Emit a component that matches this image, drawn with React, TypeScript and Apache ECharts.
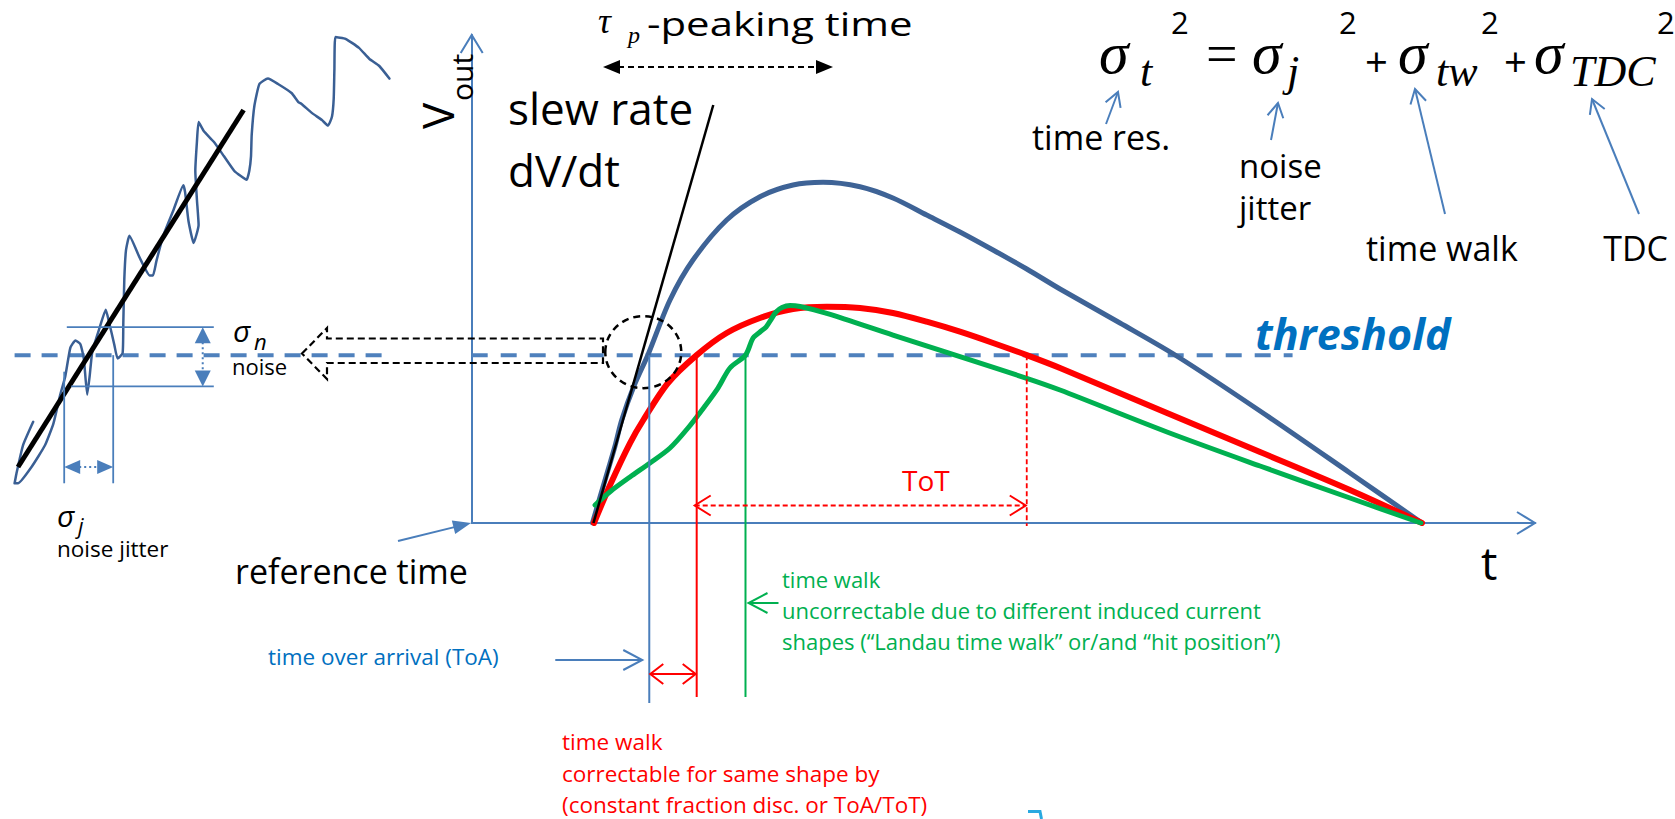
import React, { useEffect, useRef } from 'react';
import * as echarts from 'echarts';

// ---- signal shapes: [time, Vout] in arbitrary units ----
const largePulse = [
  [11.36, 0], [12.07, 5.33], [12.82, 10.86], [13.48, 15.78], [14.11, 21.11], [15.26, 28.07],
  [16.61, 34.63], [18.65, 45.7], [20.81, 53.89], [23.98, 62.09], [27.11, 66.86], [30.22, 69.26],
  [33.04, 69.82], [36.52, 68.91], [39.62, 66.6], [42.79, 63.11], [45.92, 59.63], [49.03, 55.94],
  [52.2, 52.05], [55.33, 47.95], [60.97, 40.98], [66.3, 34.22], [74.14, 22.95], [82.6, 10.25], [89.37, 0],
];
const smallPulse = [
  [11.5, 0], [13.1, 8.2], [14.89, 16.39], [16.14, 21.11], [18.46, 28.69], [21.16, 34.4],
  [23.98, 38.93], [27.11, 42.01], [30.22, 43.85], [33.39, 44.32], [36.52, 44.06], [39.62, 43.03],
  [42.79, 41.25], [45.92, 39.2], [49.03, 36.89], [52.2, 34.4], [55.33, 31.76], [65.39, 22.54],
  [74.14, 14.55], [82.6, 6.76], [89.37, 0],
];
const landauPulse = [
  [11.6, 3.69], [13.1, 6.56], [14.89, 9.43], [16.77, 12.3], [18.65, 15.37], [20.34, 19.47],
  [21.94, 23.98], [23.16, 27.66], [24.29, 31.76], [25.75, 34.4], [26.46, 37.91], [27.11, 39.14],
  [27.68, 40.16], [28.22, 41.95], [28.62, 43.24], [29.18, 44.16], [29.94, 44.57], [30.88, 44.36],
  [33.39, 42.97], [39.62, 38.52], [45.92, 34.08], [52.2, 29.65], [55.33, 27.25], [65.39, 18.65],
  [74.14, 11.68], [82.6, 5.12], [89.27, 0],
];
const slewTangent = [[11.45, 0], [22.72, 85.66]];
const thresholdLevel = 34.4;
const thresholdEnd = 77.2;
// threshold crossing times
const crossToA = 16.7;
const crossSmallRise = 21.16;
const crossLandauRise = 25.75;
const crossSmallFall = 52.2;

// ---- noisy leading edge (inset) ----
const noisyEdge = [
  [5.8, 20.74], [3.25, 15.92], [1.58, 10.0], [1.15, 8.14], [2.0, 8.14], [5.38, 11.48], [8.75, 15.92],
  [10.85, 20.37], [12.55, 26.29], [13.8, 29.98], [15.08, 35.9], [16.35, 37.4], [17.6, 36.64],
  [18.45, 33.69], [19.3, 26.29], [19.9, 29.98], [20.58, 35.16], [22.25, 39.61], [23.95, 43.69],
  [24.78, 41.09], [26.05, 36.64], [26.9, 33.69], [28.15, 34.8], [28.33, 41.09], [28.58, 49.98],
  [29.0, 55.9], [29.85, 58.85], [32.38, 54.43], [34.93, 50.72], [35.75, 50.72], [36.6, 53.67],
  [38.3, 58.85], [40.83, 64.04], [43.35, 69.22], [43.78, 67.75], [44.63, 61.82], [45.9, 57.38],
  [47.15, 61.09], [46.73, 66.27], [46.33, 72.19], [46.73, 78.11], [47.15, 82.17], [48.43, 80.33],
  [50.95, 78.11], [53.5, 75.14], [56.03, 72.19], [57.7, 71.09], [59.15, 70.33], [59.83, 72.19],
  [60.25, 75.14], [60.43, 79.59], [61.1, 85.51], [62.35, 89.96], [64.48, 91.07], [67.0, 89.96],
  [70.38, 88.11], [72.08, 86.25], [72.9, 85.88], [75.45, 84.04], [77.98, 82.56], [79.5, 81.43],
  [80.5, 83.3], [80.93, 86.99], [81.1, 92.91], [81.35, 99.59], [83.88, 99.22], [87.25, 97.36],
  [89.8, 95.14], [92.33, 93.65], [94.85, 91.07],
];
const insetSlope = [[2, 11.48], [58.4, 84.63]];
const insetThresholdSpan = [1.15, 94.2];
const noiseBand = [27.99, 40.12];
const jitterBand = [13.55, 25.8];

// ---- colours ----
const AXIS = '#4A7EBB';
const DASH_BLUE = '#4F81BD';
const PULSE_BLUE = '#3E6396';
const RED = '#FF0000';
const GREEN = '#00B050';
const TEXT_BLUE = '#0070C0';

type Pt = [number, number];

function seg(x1: number, y1: number, x2: number, y2: number, color: string, w: number, dash?: number[]) {
  return {
    type: 'line', silent: true,
    shape: { x1, y1, x2, y2 },
    style: { stroke: color, lineWidth: w, lineDash: dash || null, fill: 'none' },
  };
}

function chevron(tip: Pt, ang: number, len: number, half: number, color: string, w: number) {
  const dx = Math.cos(ang), dy = Math.sin(ang);
  const px = -dy, py = dx;
  const bx = tip[0] - dx * len, by = tip[1] - dy * len;
  return {
    type: 'polyline', silent: true,
    shape: { points: [[bx + px * half, by + py * half], tip, [bx - px * half, by - py * half]] },
    style: { stroke: color, lineWidth: w, fill: 'none', lineJoin: 'miter' },
  };
}

function triangle(tip: Pt, ang: number, len: number, half: number, color: string) {
  const dx = Math.cos(ang), dy = Math.sin(ang);
  const px = -dy, py = dx;
  const bx = tip[0] - dx * len, by = tip[1] - dy * len;
  return {
    type: 'polygon', silent: true,
    shape: { points: [[bx + px * half, by + py * half], tip, [bx - px * half, by - py * half]] },
    style: { fill: color, stroke: 'none' },
  };
}

function openArrow(tail: Pt, tip: Pt, color: string, w: number, len = 14, half = 8) {
  const ang = Math.atan2(tip[1] - tail[1], tip[0] - tail[0]);
  return [seg(tail[0], tail[1], tip[0], tip[1], color, w), chevron(tip, ang, len, half, color, w)];
}

const CENTRAL: Record<string, number> = { 'Open Sans': 0.388, 'Liberation Serif': 0.34 };

function label(text: string, left: number, base: number, size: number, o: any = {}) {
  const fam = o.fam || 'Open Sans';
  return {
    type: 'text', silent: true, z: 60,
    x: left, y: base - CENTRAL[fam] * size,
    scaleX: o.sx || 1,
    style: {
      text, fill: o.color || '#000', fontSize: size, fontFamily: fam,
      fontWeight: o.weight || 'normal', fontStyle: o.style || 'normal',
      align: o.align || 'left', verticalAlign: 'middle',
      textAlign: o.align || 'left', textVerticalAlign: 'middle',
    },
  };
}

function rotated(text: string, x: number, y: number, size: number) {
  return {
    type: 'text', silent: true, z: 60, x, y, rotation: Math.PI / 2,
    style: {
      text, fill: '#000', fontSize: size, fontFamily: 'Open Sans',
      align: 'left', verticalAlign: 'middle', textAlign: 'left', textVerticalAlign: 'middle',
    },
  };
}

function scaleFns(api: any) {
  const o = api.coord([0, 0]);
  const e = api.coord([100, 100]);
  const X = (t: number) => o[0] + ((e[0] - o[0]) * t) / 100;
  const Y = (v: number) => o[1] + ((e[1] - o[1]) * v) / 100;
  return { o, e, X, Y };
}

// markers tied to the pulse plot: axis heads, crossings, ToT, time-walk arrows
function pulseMarks(_params: any, api: any) {
  const { o, e, X, Y } = scaleFns(api);
  const axisY = o[1];
  const thY = Y(thresholdLevel);
  const xToa = X(crossToA), xRed = X(crossSmallRise), xGreen = X(crossLandauRise), xFall = X(crossSmallFall);
  const ch: any[] = [];
  ch.push(chevron([e[0], axisY], 0, 18, 11, AXIS, 2));
  ch.push(chevron([o[0], e[1]], -Math.PI / 2, 18, 11, AXIS, 2));
  ch.push({
    type: 'ellipse', silent: true,
    shape: { cx: xToa - 6, cy: thY - 3, rx: 38, ry: 36 },
    style: { fill: 'none', stroke: '#000', lineWidth: 2.5, lineDash: [7, 5] },
  });
  ch.push(seg(xToa, thY, xToa, axisY + 180, AXIS, 2));
  ch.push(seg(xRed, thY, xRed, axisY + 174, RED, 2));
  ch.push(seg(xGreen, thY, xGreen, axisY + 174, GREEN, 2));
  ch.push(seg(xFall, thY, xFall, axisY + 3, RED, 1.8, [5, 3]));
  const yTot = axisY - 17.5;
  ch.push(seg(xRed - 2, yTot, xFall - 2, yTot, RED, 1.8, [5, 3]));
  ch.push(chevron([xRed - 2, yTot], Math.PI, 16, 10, RED, 2));
  ch.push(chevron([xFall - 1, yTot], 0, 16, 10, RED, 2));
  const yTw = axisY + 151;
  ch.push(seg(xToa + 1, yTw, xRed - 1, yTw, RED, 2));
  ch.push(chevron([xToa + 1, yTw], Math.PI, 13, 10, RED, 2));
  ch.push(chevron([xRed - 1, yTw], 0, 13, 10, RED, 2));
  const yToa = axisY + 137;
  ch.push(seg(xToa - 94, yToa, xToa - 7, yToa, AXIS, 2));
  ch.push(chevron([xToa - 7, yToa], 0, 19, 10, AXIS, 2));
  const yL = axisY + 80;
  ch.push(seg(xGreen + 3, yL, xGreen + 33, yL, GREEN, 2));
  ch.push(chevron([xGreen + 3, yL], Math.PI, 19, 10, GREEN, 2));
  return { type: 'group', children: ch };
}

// noise band and jitter markers of the inset
function insetMarks(_params: any, api: any) {
  const { X, Y } = scaleFns(api);
  const yTop = Y(noiseBand[1]), yBot = Y(noiseBand[0]);
  const xL = X(jitterBand[0]), xR = X(jitterBand[1]);
  const ch: any[] = [];
  ch.push(seg(X(14.2), yTop, X(50.95), yTop, AXIS, 1.8));
  ch.push(seg(X(15.3), yBot, X(50.95), yBot, AXIS, 1.8));
  ch.push(seg(xL, Y(31), xL, Y(8.14), AXIS, 1.8));
  ch.push(seg(xR, Y(thresholdLevel), xR, Y(8.14), AXIS, 1.8));
  const xa = X(48.18);
  ch.push(seg(xa, yTop + 15, xa, yBot - 15, AXIS, 2, [2, 3]));
  ch.push(triangle([xa, yTop], -Math.PI / 2, 16, 8, AXIS));
  ch.push(triangle([xa, yBot], Math.PI / 2, 16, 8, AXIS));
  const ya = Y(11.48);
  ch.push(seg(xL + 15, ya, xR - 15, ya, AXIS, 2, [2, 3]));
  ch.push(triangle([xL, ya], Math.PI, 16, 7, AXIS));
  ch.push(triangle([xR, ya], 0, 16, 7, AXIS));
  return { type: 'group', children: ch };
}

function buildGraphics() {
  const g: any[] = [];
  // hollow dashed pointer from the circled crossing to the inset
  g.push({
    type: 'polygon', silent: true, z: 20,
    shape: { points: [[302, 353.5], [327, 328], [327, 338.5], [603, 338.5], [603, 363], [327, 363], [327, 379]] },
    style: { fill: 'none', stroke: '#000', lineWidth: 2.2, lineDash: [7, 4] },
  });
  // peaking-time span
  g.push(seg(618, 67, 818, 67, '#000', 2, [6, 4]));
  g.push(triangle([603, 67], Math.PI, 17, 7, '#000'));
  g.push(triangle([833, 67], 0, 17, 7, '#000'));
  // reference time pointer
  {
    const tail: Pt = [398, 541], tip: Pt = [471, 523];
    const ang = Math.atan2(tip[1] - tail[1], tip[0] - tail[0]);
    g.push(seg(tail[0], tail[1], tip[0] - Math.cos(ang) * 14, tip[1] - Math.sin(ang) * 14, AXIS, 2));
    g.push(triangle(tip, ang, 18, 7, AXIS));
  }
  // formula term pointers
  g.push(...openArrow([1106, 124], [1118, 92], AXIS, 2));
  g.push(...openArrow([1271, 140], [1278, 103], AXIS, 2));
  g.push(...openArrow([1445, 214], [1415, 89], AXIS, 2));
  g.push(...openArrow([1639, 214], [1592, 99], AXIS, 2));
  g.push({
    type: 'polyline', silent: true,
    shape: { points: [[1028, 811.5], [1040, 811.5], [1041.5, 819]] },
    style: { stroke: '#29A9E0', lineWidth: 3, fill: 'none' },
  });

  // texts
  g.push(label('τ', 598, 33, 36, { fam: 'Liberation Serif', style: 'italic' }));
  g.push(label('p', 628, 43, 24, { fam: 'Liberation Serif', style: 'italic' }));
  g.push(label('-peaking time', 647, 36, 33, { sx: 1.27 }));
  g.push(label('slew rate', 508, 125, 44));
  g.push(label('dV/dt', 508, 187, 44));
  g.push(rotated('V', 437, 129, 44));
  g.push(rotated('out', 461, 101, 30));
  g.push(label('threshold', 1255, 350, 43, { color: TEXT_BLUE, weight: 'bold', style: 'italic' }));
  g.push(label('t', 1481, 580, 46));
  g.push(label('reference time', 235, 584, 34));
  g.push(label('time over arrival (ToA)', 268, 665, 22.5, { color: TEXT_BLUE }));
  g.push(label('time walk', 782, 588, 22, { color: GREEN }));
  g.push(label('uncorrectable due to different induced current', 782, 619, 22, { color: GREEN }));
  g.push(label('shapes (\u201CLandau time walk\u201D or/and \u201Chit position\u201D)', 782, 650, 22, { color: GREEN }));
  g.push(label('time walk', 562, 750, 22.5, { color: RED }));
  g.push(label('correctable for same shape by', 562, 782, 22.5, { color: RED }));
  g.push(label('(constant fraction disc. or ToA/ToT)', 562, 813, 22.5, { color: RED }));
  g.push(label('ToT', 902, 491, 28, { color: RED }));

  // resolution formula
  const serifI = { fam: 'Liberation Serif', style: 'italic' };
  g.push(label('σ', 1099, 73, 60, serifI));
  g.push(label('t', 1140, 86, 44, serifI));
  g.push(label('2', 1171, 34, 31));
  g.push(label('=', 1206, 73, 56, { fam: 'Liberation Serif' }));
  g.push(label('σ', 1252, 73, 60, serifI));
  g.push(label('j', 1287, 86, 44, serifI));
  g.push(label('2', 1339, 34, 31));
  g.push(label('+', 1365, 77, 40));
  g.push(label('σ', 1398, 73, 60, serifI));
  g.push(label('tw', 1436, 86, 44, serifI));
  g.push(label('2', 1481, 34, 31));
  g.push(label('+', 1504, 77, 40));
  g.push(label('σ', 1534, 73, 60, serifI));
  g.push(label('TDC', 1570, 86, 44, serifI));
  g.push(label('2', 1657, 34, 31));
  g.push(label('time res.', 1032, 150, 34));
  g.push(label('noise', 1239, 178, 33));
  g.push(label('jitter', 1239, 220, 33));
  g.push(label('time walk', 1366, 261, 34));
  g.push(label('TDC', 1668, 261, 34, { align: 'right' }));

  // inset labels
  g.push(label('σ', 233, 342, 30, { style: 'italic' }));
  g.push(label('n', 254, 350, 22, { style: 'italic' }));
  g.push(label('noise', 232, 375, 22));
  g.push(label('σ', 57, 527, 30, { style: 'italic' }));
  g.push(label('j', 78, 534, 22, { style: 'italic' }));
  g.push(label('noise jitter', 57, 557, 22.5));
  return g;
}

function buildOption(): any {
  const hiddenAxis = (gridIndex: number) => ({
    type: 'value', gridIndex, min: 0, max: 100, show: false,
  });
  const shownAxis = (gridIndex: number) => ({
    type: 'value', gridIndex, min: 0, max: 100,
    axisLine: { show: true, onZero: false, lineStyle: { color: AXIS, width: 2 } },
    axisTick: { show: false }, axisLabel: { show: false }, splitLine: { show: false },
  });
  const curve = (name: string, data: number[][], color: string, width: number, z: number, extra: any = {}) => ({
    name, type: 'line', data, showSymbol: false, symbol: 'none', smooth: 0.3, z, silent: true,
    lineStyle: { color, width, cap: 'round', join: 'round' }, ...extra,
  });
  return {
    animation: false,
    backgroundColor: '#ffffff',
    grid: [
      { left: 471.7, top: 35, width: 1063.3, height: 488, outerBoundsMode: 'none' },
      { left: 10, top: 35, width: 400, height: 488, outerBoundsMode: 'none' },
    ],
    xAxis: [shownAxis(0), hiddenAxis(1)],
    yAxis: [shownAxis(0), hiddenAxis(1)],
    series: [
      {
        name: 'threshold', type: 'line', showSymbol: false, symbol: 'none', z: 1, silent: true,
        data: [[0, thresholdLevel], [thresholdEnd, thresholdLevel]],
        lineStyle: { color: DASH_BLUE, width: 4, type: [16, 13] },
      },
      curve('large signal', largePulse, PULSE_BLUE, 5, 3),
      curve('small signal', smallPulse, RED, 6, 4),
      curve('other shape', landauPulse, GREEN, 5, 5),
      {
        name: 'slew rate', type: 'line', data: slewTangent, showSymbol: false, symbol: 'none', z: 6, silent: true,
        lineStyle: { color: '#000', width: 2.5 }, clip: false,
      },
      {
        name: 'inset threshold', type: 'line', xAxisIndex: 1, yAxisIndex: 1, showSymbol: false, symbol: 'none', z: 1, silent: true,
        data: [[insetThresholdSpan[0], thresholdLevel], [insetThresholdSpan[1], thresholdLevel]],
        lineStyle: { color: DASH_BLUE, width: 4, type: [16, 11] },
      },
      curve('noisy edge', noisyEdge, '#3A5F94', 2.5, 3, { xAxisIndex: 1, yAxisIndex: 1, smooth: 0.15 }),
      {
        name: 'edge slope', type: 'line', xAxisIndex: 1, yAxisIndex: 1, data: insetSlope, showSymbol: false, symbol: 'none', z: 4, silent: true,
        lineStyle: { color: '#000', width: 5 },
      },
      {
        name: 'pulse marks', type: 'custom', xAxisIndex: 0, yAxisIndex: 0, data: [[0, 0]], clip: false, silent: true, z: 7,
        renderItem: pulseMarks,
      },
      {
        name: 'inset marks', type: 'custom', xAxisIndex: 1, yAxisIndex: 1, data: [[0, 0]], clip: false, silent: true, z: 7,
        renderItem: insetMarks,
      },
    ],
    graphic: { elements: buildGraphics() },
  };
}

export default function App() {
  const ref = useRef<HTMLDivElement>(null);
  useEffect(() => {
    if (!ref.current) return;
    const chart = echarts.init(ref.current, null, { renderer: 'svg' });
    chart.setOption(buildOption());
    return () => chart.dispose();
  }, []);
  return (
    <div
      ref={ref}
      style={{ position: 'fixed', left: 0, top: 0, width: 1675, height: 819, background: '#fff' }}
    />
  );
}
